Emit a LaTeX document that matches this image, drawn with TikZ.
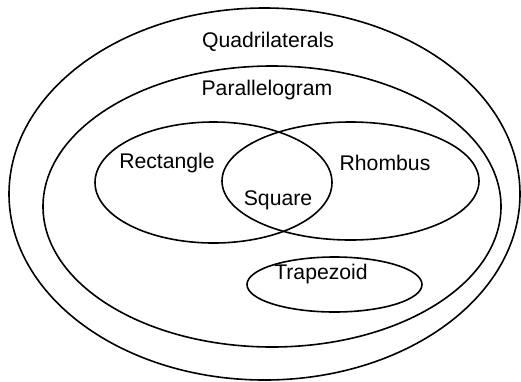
\documentclass[tikz,border=0pt]{standalone}
\usepackage{fontspec}
\setmainfont{Liberation Sans}
\usetikzlibrary{shapes.geometric}
\begin{document}
\begin{tikzpicture}[x=1pt,y=-1pt,
  set/.style={draw=black, line width=1.6pt, ellipse, inner sep=0pt},
  lbl/.style={font=\fontsize{21.2}{24}\selectfont, inner sep=0pt, anchor=center}]
\useasboundingbox (0,0) rectangle (521,381);
\node[set, minimum width=511pt, minimum height=372pt] (quad) at (264.5,194) {};
\node[set, minimum width=458pt, minimum height=281pt] (para) at (272,206.5) {};
\node[set, minimum width=237pt, minimum height=121pt] (rect) at (213.5,182.5) {};
\node[set, minimum width=257pt, minimum height=118pt] (rhom) at (350.5,181) {};
\node[set, minimum width=175pt, minimum height=55pt] (trap) at (334.5,284.5) {};
\node[lbl] (tq) at (268,42) {Quadrilaterals};
\node[lbl] (tp) at (267,90) {Parallelogram};
\node[lbl] (tr) at (167,163) {Rectangle};
\node[lbl] (th) at (385,163) {Rhombus};
\node[lbl] (ts) at (278,200) {Square};
\node[lbl] (tt) at (321,274) {Trapezoid};
\end{tikzpicture}
\end{document}
